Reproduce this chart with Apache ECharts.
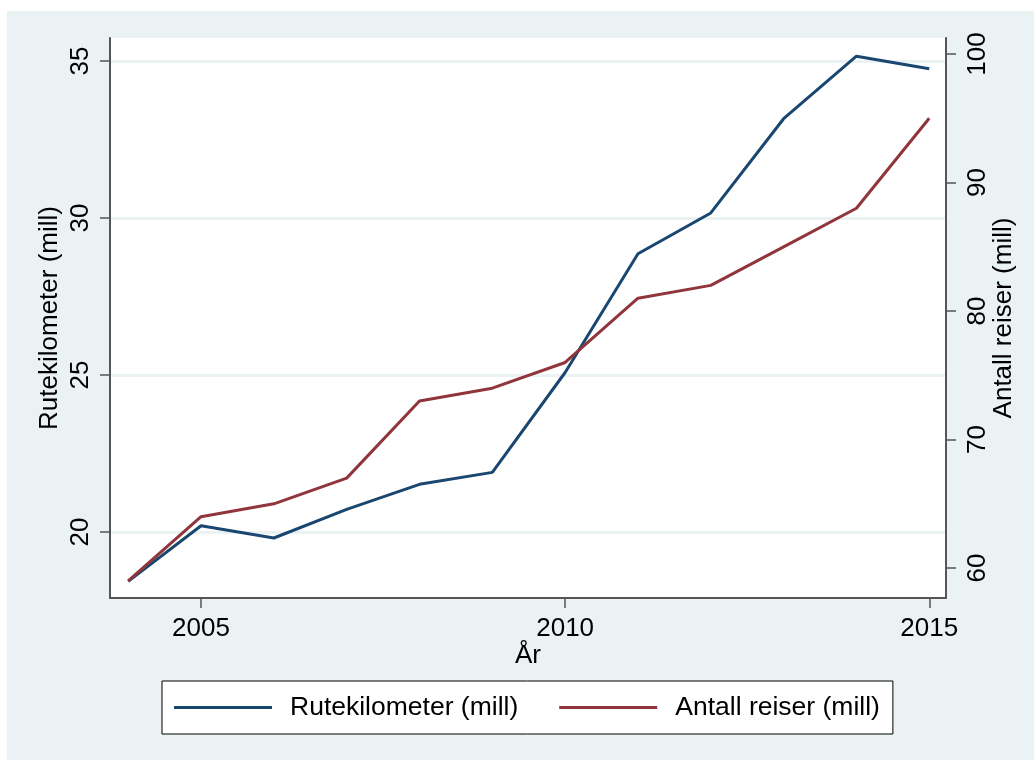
<!DOCTYPE html>
<html>
<head>
<meta charset="utf-8">
<script src="https://cdn.jsdelivr.net/npm/echarts@6/dist/echarts.min.js"></script>
<style>
  html, body { margin: 0; padding: 0; background: #fff; }
  #panel { position: absolute; left: 7px; top: 11px; width: 1027px; height: 749px; background: #EAF2F3; }
  #chart { position: absolute; left: 0; top: 0; width: 1034px; height: 760px; }
</style>
</head>
<body>
<div id="panel"></div>
<div id="chart"></div>
<script>
// data
var years = [2004, 2005, 2006, 2007, 2008, 2009, 2010, 2011, 2012, 2013, 2014, 2015];
var rutekm = [18.43, 20.2, 19.81, 20.72, 21.52, 21.9, 25.08, 28.86, 30.16, 33.16, 35.15, 34.75];
var reiser = [59, 64, 65, 67, 73, 74, 76, 81, 82, 85, 88, 95];
var xTicks = [2005, 2010, 2015];
var leftTicks = [20, 25, 30, 35];
var rightTicks = [60, 70, 80, 90, 100];

var font = 'Liberation Sans, Arial, sans-serif';
var axisColor = '#555';

function pairs(xs, ys) {
    return xs.map(function (x, i) { return [x, ys[i]]; });
}

var chart = echarts.init(document.getElementById('chart'));

var option = {
    backgroundColor: 'transparent',
    animation: false,
    textStyle: {fontFamily: font, color: '#000'},
    grid: {
        left: 110, right: 88, top: 38, bottom: 162,
        show: true, backgroundColor: '#fff', borderWidth: 0
    },
    legend: {
        left: 162, top: 681,
        backgroundColor: '#fff',
        borderColor: '#000', borderWidth: 1,
        padding: [13, 13, 13, 12],
        icon: 'rect',
        itemWidth: 98, itemHeight: 3, itemGap: 41,
        textStyle: {fontSize: 26.5, lineHeight: 26, fontFamily: font, color: '#000', padding: [0, 0, 0, 13]},
        data: ['Rutekilometer (mill)', 'Antall reiser (mill)']
    },
    xAxis: {
        type: 'value',
        min: 2003.75, max: 2015.23,
        name: 'År', nameLocation: 'middle', nameGap: 45, nameMoveOverlap: false,
        nameTextStyle: {fontSize: 26, fontFamily: font, color: '#000'},
        axisLine: {show: true, lineStyle: {color: axisColor, width: 2}},
        axisTick: {show: true, length: 10, customValues: xTicks, lineStyle: {color: axisColor, width: 1.5}},
        axisLabel: {
            customValues: xTicks, fontSize: 26, color: '#000', margin: 18,
            formatter: function (v) { return String(v); }
        },
        splitLine: {show: false}
    },
    yAxis: [{
        type: 'value',
        min: 17.9, max: 35.73,
        position: 'left',
        name: 'Rutekilometer (mill)', nameLocation: 'middle', nameGap: 47, nameMoveOverlap: false,
        nameTextStyle: {fontSize: 26, fontFamily: font, color: '#000'},
        axisLine: {show: true, lineStyle: {color: axisColor, width: 2}},
        axisTick: {show: true, length: 10, customValues: leftTicks, lineStyle: {color: axisColor, width: 1.5}},
        axisLabel: {customValues: leftTicks, rotate: 90, fontSize: 26, color: '#000', margin: 16},
        splitLine: {show: true, lineStyle: {color: '#EAF2F3', width: 3}}
    }, {
        type: 'value',
        min: 57.67, max: 101.25,
        position: 'right',
        name: 'Antall reiser (mill)', nameLocation: 'middle', nameGap: 45, nameMoveOverlap: false,
        nameTextStyle: {fontSize: 26, fontFamily: font, color: '#000'},
        axisLine: {show: true, lineStyle: {color: axisColor, width: 2}},
        axisTick: {show: true, length: 10, customValues: rightTicks, lineStyle: {color: axisColor, width: 1.5}},
        axisLabel: {customValues: rightTicks, rotate: 90, fontSize: 26, color: '#000', margin: 19},
        splitLine: {show: false}
    }],
    series: [{
        name: 'Rutekilometer (mill)',
        type: 'line',
        yAxisIndex: 0,
        symbol: 'none',
        color: '#1A476F',
        lineStyle: {width: 3, color: '#1A476F'},
        data: pairs(years, rutekm)
    }, {
        name: 'Antall reiser (mill)',
        type: 'line',
        yAxisIndex: 1,
        symbol: 'none',
        color: '#90353B',
        lineStyle: {width: 3, color: '#90353B'},
        data: pairs(years, reiser)
    }]
};

chart.setOption(option);
</script>
</body>
</html>
